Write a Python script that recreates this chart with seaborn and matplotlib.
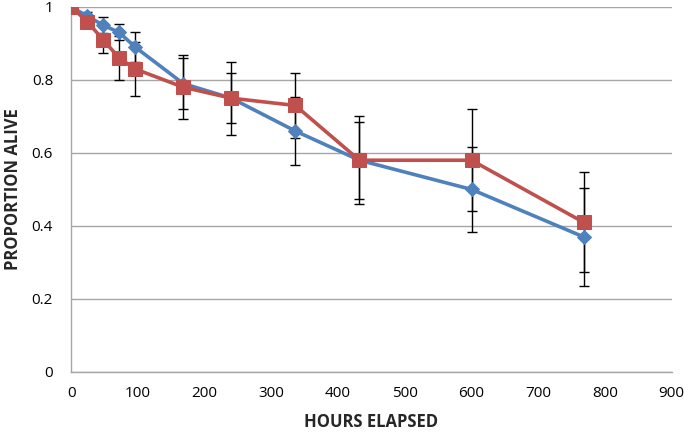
import numpy as np
import pandas as pd
import seaborn as sns
import matplotlib.pyplot as plt

# Data
hours = [0, 24, 48, 72, 96, 168, 240, 336, 432, 600, 768]
blue_alive = [1.0, 0.975, 0.95, 0.93, 0.89, 0.79, 0.75, 0.66, 0.58, 0.50, 0.37]
blue_err = [0.0, 0.01, 0.022, 0.022, 0.04, 0.07, 0.068, 0.093, 0.105, 0.117, 0.135]
red_alive = [1.0, 0.96, 0.91, 0.86, 0.83, 0.78, 0.75, 0.73, 0.58, 0.58, 0.41]
red_err = [0.0, 0.015, 0.035, 0.06, 0.073, 0.088, 0.10, 0.088, 0.12, 0.14, 0.137]

BLUE = "#4F81BD"
RED = "#C0504D"

sns.set_style("white")
plt.rcParams['font.family'] = ['Open Sans', 'DejaVu Sans']

df = pd.DataFrame({"hours": hours, "blue": blue_alive, "red": red_alive})

fig = plt.figure(figsize=(6.84, 4.32), dpi=100)
ax = fig.add_axes([0.104, 0.139, 0.878, 0.845])

# error bars (black, capped)
ax.errorbar(hours, blue_alive, yerr=blue_err, fmt="none", ecolor="black",
            elinewidth=1.0, capsize=3.5, capthick=1.0, zorder=2)
ax.errorbar(hours, red_alive, yerr=red_err, fmt="none", ecolor="black",
            elinewidth=1.0, capsize=3.5, capthick=1.0, zorder=2)

sns.lineplot(data=df, x="hours", y="blue", ax=ax, color=BLUE, linewidth=2.6,
             marker="D", markersize=7, markeredgecolor=BLUE, zorder=3)
sns.lineplot(data=df, x="hours", y="red", ax=ax, color=RED, linewidth=2.6,
             marker="s", markersize=10, markeredgecolor=RED, zorder=4)

ax.set_xlim(0, 900)
ax.set_ylim(0, 1)
ax.set_xticks(np.arange(0, 901, 100))
ax.set_yticks([0, 0.2, 0.4, 0.6, 0.8, 1])
ax.set_yticklabels(["0", "0.2", "0.4", "0.6", "0.8", "1"])
ax.yaxis.grid(True, color="#A6A6A6", linewidth=1.0)
ax.xaxis.grid(False)
ax.set_axisbelow(True)

for side in ["top", "right"]:
    ax.spines[side].set_visible(False)
for side in ["left", "bottom"]:
    ax.spines[side].set_color("#A6A6A6")
    ax.spines[side].set_linewidth(1.0)

ax.tick_params(axis="both", length=0, labelsize=11, colors="black")
ax.tick_params(axis="y", pad=13)
ax.tick_params(axis="x", pad=10)

ax.set_xlabel("HOURS ELAPSED", fontsize=12, fontweight="bold", labelpad=9)
ax.set_ylabel("PROPORTION ALIVE", fontsize=12, fontweight="bold", labelpad=7)

fig.savefig("out.png", dpi=100)
